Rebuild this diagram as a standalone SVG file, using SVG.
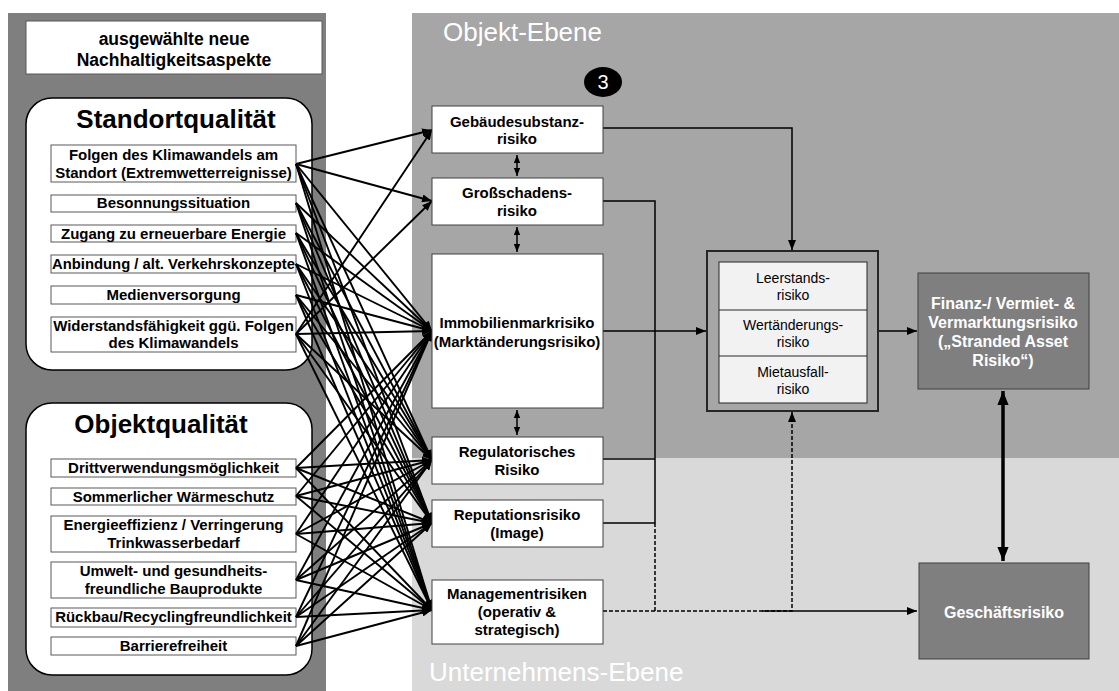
<svg xmlns="http://www.w3.org/2000/svg" width="1119" height="691" viewBox="0 0 1119 691">
  <style>
    text { font-family: "Liberation Sans", Arial, sans-serif; text-anchor: middle; }
    .b { font-weight: bold; }
    .item { fill: #fff; stroke: #595959; stroke-width: 1; }
    .grp { fill: #fff; stroke: #000; stroke-width: 1.5; }
    .risk { fill: #fff; stroke: #404040; stroke-width: 1; }
    .dark { fill: #7f7f7f; stroke: #404040; stroke-width: 1; }
    .t14 { font-size: 15px; font-weight: bold; }
    .mesh path { fill: none; stroke: #000; stroke-width: 1.9; marker-end: url(#ah); }
    .flow { fill: none; stroke: #000; stroke-width: 1.5; }
    .dash { stroke-dasharray: 4 2; }
  </style>
  <defs>
    <marker id="ah" viewBox="0 0 10 8" refX="10" refY="4" markerWidth="10" markerHeight="8" markerUnits="userSpaceOnUse" orient="auto-start-reverse">
      <path d="M0,0 L10,4 L0,8 z" fill="#000"/>
    </marker>
    <marker id="ahs" viewBox="0 0 10 8" refX="10" refY="4" markerWidth="8" markerHeight="7" markerUnits="userSpaceOnUse" orient="auto-start-reverse">
      <path d="M0,0 L10,4 L0,8 z" fill="#000"/>
    </marker>
    <marker id="ahb" viewBox="0 0 10 8" refX="10" refY="4" markerWidth="14" markerHeight="12" markerUnits="userSpaceOnUse" orient="auto-start-reverse">
      <path d="M0,0 L10,4 L0,8 z" fill="#000"/>
    </marker>
  </defs>

  <!-- background panels -->
  <g id="panels">
    <rect x="0" y="0" width="1119" height="691" fill="#fff"/>
    <rect x="8" y="13" width="318" height="678" fill="#7f7f7f"/>
    <rect x="412" y="13" width="707" height="445" fill="#a6a6a6"/>
    <rect x="412" y="458" width="707" height="233" fill="#d9d9d9"/>
    <text x="443" y="41" fill="#fff" style="font-size:26px; text-anchor:start">Objekt-Ebene</text>
    <text x="429" y="681" fill="#fff" style="font-size:26px; text-anchor:start">Unternehmens-Ebene</text>
  </g>

  <!-- header -->
  <g id="header">
    <rect x="26" y="21" width="296" height="53" fill="#fff" stroke="#595959" stroke-width="1"/>
    <text x="174" y="45" class="b" style="font-size:17.5px">ausgewählte neue</text>
    <text x="174" y="66" class="b" style="font-size:17.5px">Nachhaltigkeitsaspekte</text>
  </g>

  <!-- Standortqualität -->
  <g id="standort">
    <rect x="26" y="98" width="286" height="272" rx="26" class="grp"/>
    <text x="176" y="128" class="b" style="font-size:26px">Standortqualität</text>
    <g id="s1"><rect x="51" y="145" width="245" height="37" class="item"/>
      <text x="173.5" y="160" class="t14">Folgen des Klimawandels am</text>
      <text x="173.5" y="178" class="t14">Standort (Extremwetterreignisse)</text></g>
    <g id="s2"><rect x="51" y="195" width="245" height="17" class="item"/>
      <text x="173.5" y="208" class="t14">Besonnungssituation</text></g>
    <g id="s3"><rect x="51" y="225" width="245" height="17" class="item"/>
      <text x="173.5" y="239" class="t14">Zugang zu erneuerbare Energie</text></g>
    <g id="s4"><rect x="51" y="255" width="245" height="18" class="item"/>
      <text x="173.5" y="269" class="t14" textLength="243" lengthAdjust="spacingAndGlyphs">Anbindung / alt. Verkehrskonzepte</text></g>
    <g id="s5"><rect x="51" y="286" width="245" height="18" class="item"/>
      <text x="173.5" y="300" class="t14">Medienversorgung</text></g>
    <g id="s6"><rect x="51" y="317" width="245" height="35" class="item"/>
      <text x="173.5" y="331" class="t14">Widerstandsfähigkeit ggü. Folgen</text>
      <text x="173.5" y="348" class="t14">des Klimawandels</text></g>
  </g>

  <!-- Objektqualität -->
  <g id="objekt">
    <rect x="26" y="403" width="286" height="272" rx="26" class="grp"/>
    <text x="161" y="433" class="b" style="font-size:26px">Objektqualität</text>
    <g id="o1"><rect x="51" y="459" width="245" height="18" class="item"/>
      <text x="173.5" y="473" class="t14">Drittverwendungsmöglichkeit</text></g>
    <g id="o2"><rect x="51" y="488" width="245" height="17" class="item"/>
      <text x="173.5" y="502" class="t14">Sommerlicher Wärmeschutz</text></g>
    <g id="o3"><rect x="51" y="516" width="245" height="36" class="item"/>
      <text x="173.5" y="530" class="t14">Energieeffizienz / Verringerung</text>
      <text x="173.5" y="548" class="t14">Trinkwasserbedarf</text></g>
    <g id="o4"><rect x="51" y="562" width="245" height="36" class="item"/>
      <text x="173.5" y="576" class="t14">Umwelt- und gesundheits-</text>
      <text x="173.5" y="594" class="t14">freundliche Bauprodukte</text></g>
    <g id="o5"><rect x="51" y="608" width="245" height="19" class="item"/>
      <text x="173.5" y="622" class="t14">Rückbau/Recyclingfreundlichkeit</text></g>
    <g id="o6"><rect x="51" y="637" width="245" height="18" class="item"/>
      <text x="173.5" y="651" class="t14">Barrierefreiheit</text></g>
  </g>

  <!-- aspect-to-risk connectors -->
  <g id="connectors-aspects" class="mesh">
    <path d="M296 164L432 130"/><path d="M296 164L432 201"/><path d="M296 164L432 331"/><path d="M296 164L432 460"/><path d="M296 164L432 523"/><path d="M296 164L432 610"/>
    <path d="M296 203L432 331"/><path d="M296 203L432 460"/><path d="M296 203L432 523"/><path d="M296 203L432 610"/>
    <path d="M296 233L432 331"/><path d="M296 233L432 460"/><path d="M296 233L432 523"/><path d="M296 233L432 610"/>
    <path d="M296 264L432 331"/><path d="M296 264L432 460"/><path d="M296 264L432 523"/><path d="M296 264L432 610"/>
    <path d="M296 295L432 331"/><path d="M296 295L432 460"/><path d="M296 295L432 523"/><path d="M296 295L432 610"/>
    <path d="M296 334L432 130"/><path d="M296 334L432 201"/><path d="M296 334L432 331"/><path d="M296 334L432 460"/><path d="M296 334L432 523"/><path d="M296 334L432 610"/>
    <path d="M296 468L432 331"/><path d="M296 468L432 460"/><path d="M296 468L432 523"/><path d="M296 468L432 610"/>
    <path d="M296 496L432 331"/><path d="M296 496L432 460"/><path d="M296 496L432 523"/><path d="M296 496L432 610"/>
    <path d="M296 534L432 331"/><path d="M296 534L432 460"/><path d="M296 534L432 523"/><path d="M296 534L432 610"/>
    <path d="M296 580L432 331"/><path d="M296 580L432 460"/><path d="M296 580L432 523"/><path d="M296 580L432 610"/>
    <path d="M296 617L432 331"/><path d="M296 617L432 460"/><path d="M296 617L432 523"/><path d="M296 617L432 610"/>
    <path d="M296 646L432 331"/><path d="M296 646L432 460"/><path d="M296 646L432 523"/><path d="M296 646L432 610"/>
  </g>

  <!-- risk flow connectors -->
  <g id="connectors-flow">
    <path class="flow" d="M517 155V176" marker-start="url(#ahs)" marker-end="url(#ahs)"/>
    <path class="flow" d="M517 227V252" marker-start="url(#ahs)" marker-end="url(#ahs)"/>
    <path class="flow" d="M517 410V435" marker-start="url(#ahs)" marker-end="url(#ahs)"/>
    <path class="flow" d="M603 128H792V250" marker-end="url(#ah)"/>
    <path class="flow" d="M603 201H655V523"/>
    <path class="flow" d="M603 459H655"/>
    <path class="flow" d="M603 523H655"/>
    <path class="flow dash" d="M655 523V611"/>
    <path class="flow" d="M603 331H706" marker-end="url(#ah)"/>
    <path class="flow dash" d="M603 611H792V412" marker-end="url(#ah)"/>
    <path class="flow" d="M762 611H917" marker-end="url(#ah)"/>
    <path class="flow" d="M878 331H917" marker-end="url(#ah)"/>
    <path d="M1003 391V561" fill="none" stroke="#000" stroke-width="3.5" marker-start="url(#ahb)" marker-end="url(#ahb)"/>
  </g>

  <!-- object-level risks -->
  <g id="badge">
    <ellipse cx="603" cy="82" rx="19" ry="15" fill="#000"/>
    <text x="603" y="89" fill="#fff" style="font-size:20px">3</text>
  </g>
  <g id="r-gebaeude"><rect x="432" y="106" width="171" height="47" class="risk"/>
    <text x="517" y="127" class="t14">Gebäudesubstanz-</text><text x="517" y="144" class="t14">risiko</text></g>
  <g id="r-grossschaden"><rect x="432" y="178" width="171" height="47" class="risk"/>
    <text x="517" y="198" class="t14">Großschadens-</text><text x="517" y="216" class="t14">risiko</text></g>
  <g id="r-immo"><rect x="432" y="254" width="171" height="154" class="risk"/>
    <text x="517" y="328" class="t14">Immobilienmarkrisiko</text><text x="517" y="347" class="t14">(Marktänderungsrisiko)</text></g>
  <g id="r-regulatorisch"><rect x="432" y="437" width="171" height="47" class="risk"/>
    <text x="517" y="457" class="t14">Regulatorisches</text><text x="517" y="475" class="t14">Risiko</text></g>
  <g id="r-reputation"><rect x="432" y="500" width="171" height="47" class="risk"/>
    <text x="517" y="520" class="t14">Reputationsrisiko</text><text x="517" y="538" class="t14">(Image)</text></g>
  <g id="r-management"><rect x="432" y="580" width="171" height="64" class="risk"/>
    <text x="517" y="599" class="t14">Managementrisiken</text><text x="517" y="617" class="t14">(operativ &amp;</text><text x="517" y="635" class="t14">strategisch)</text></g>

  <!-- consolidated risks -->
  <g id="r-cluster">
    <rect x="707" y="251" width="171" height="160" fill="#a6a6a6" stroke="#262626" stroke-width="2"/>
    <rect x="719" y="262" width="148" height="141" fill="#f2f2f2" stroke="#262626" stroke-width="1"/>
    <path d="M719 310H867M719 356H867" stroke="#262626" stroke-width="1"/>
    <text x="793" y="283" style="font-size:14px">Leerstands-</text><text x="793" y="300" style="font-size:14px">risiko</text>
    <text x="793" y="330" style="font-size:14px">Wertänderungs-</text><text x="793" y="347" style="font-size:14px">risiko</text>
    <text x="793" y="377" style="font-size:14px">Mietausfall-</text><text x="793" y="394" style="font-size:14px">risiko</text>
  </g>
  <g id="r-finanz">
    <rect x="918" y="273" width="171" height="116" class="dark"/>
    <text x="1003" y="309" class="b" fill="#fff" style="font-size:16px">Finanz-/ Vermiet- &amp;</text>
    <text x="1003" y="328" class="b" fill="#fff" style="font-size:16px">Vermarktungsrisiko</text>
    <text x="1003" y="347" class="b" fill="#fff" style="font-size:16px">(„Stranded Asset</text>
    <text x="1003" y="366" class="b" fill="#fff" style="font-size:16px">Risiko“)</text>
  </g>
  <g id="r-geschaeft">
    <rect x="919" y="563" width="170" height="96" class="dark"/>
    <text x="1004" y="618" class="b" fill="#fff" style="font-size:16px">Geschäftsrisiko</text>
  </g>
</svg>
